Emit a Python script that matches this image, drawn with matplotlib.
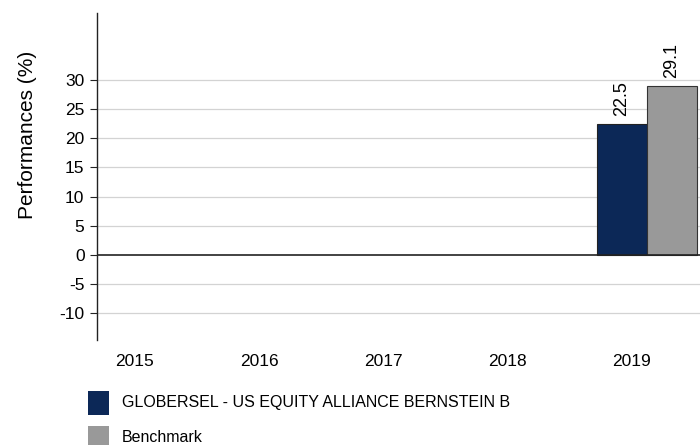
import matplotlib
matplotlib.use("Agg")
import matplotlib.pyplot as plt
from matplotlib.patches import Rectangle

years = ["2015", "2016", "2017", "2018", "2019"]
fund_values = [None, None, None, None, 22.5]
bench_values = [None, None, None, None, 29.1]
fund_name = "GLOBERSEL - US EQUITY ALLIANCE BERNSTEIN B"
bench_name = "Benchmark"
yticks = [-10, -5, 0, 5, 10, 15, 20, 25, 30]

fund_color = "#0c2857"
bench_color = "#999999"

plt.rcParams['font.family'] = ['Liberation Sans', 'DejaVu Sans']

W, H = 700, 445
fig = plt.figure(figsize=(W / 100, H / 100), dpi=100)
ax = fig.add_axes([97 / W, 1 - 340 / H, (700 - 97) / W, (340 - 13) / H])

ax.set_xlim(-0.306, 4.556)
ax.set_ylim(-14.7, 41.6)

bw = 0.403
off = 0.129
for i, (f, b) in enumerate(zip(fund_values, bench_values)):
    if f is not None:
        ax.bar(i + off - bw / 2, f, width=bw, color=fund_color, edgecolor="#222222", linewidth=0.8, zorder=3)
        ax.text(i + off - bw / 2, f + 1.3, f"{f:.1f}", rotation=90, ha="center", va="bottom", fontsize=13)
    if b is not None:
        ax.bar(i + off + bw / 2, b, width=bw, color=bench_color, edgecolor="#333333", linewidth=0.8, zorder=3)
        ax.text(i + off + bw / 2, b + 1.3, f"{b:.1f}", rotation=90, ha="center", va="bottom", fontsize=13)

ax.set_yticks(yticks)
ax.set_yticklabels([str(t) for t in yticks], fontsize=12.5)
for t in yticks:
    if t == 0:
        ax.axhline(0, color="#222222", linewidth=1.2, zorder=4)
    else:
        ax.axhline(t, color="#d3d3d3", linewidth=0.9, zorder=1)

ax.set_xticks(range(len(years)))
ax.set_xticklabels(years, fontsize=12.5)
ax.tick_params(axis="x", length=0, pad=10)
ax.tick_params(axis="y", length=5, width=0.8, color="#222222", pad=4)

for s in ["top", "right", "bottom"]:
    ax.spines[s].set_visible(False)
ax.spines["left"].set_color("#222222")
ax.spines["left"].set_linewidth(1.0)

ax.set_ylabel("Performances (%)", fontsize=15)
ax.yaxis.set_label_coords(-0.1, 0.627)

# legend
def px(x, y):
    return x / W, 1 - y / H

for (y0, color, label) in [(391, fund_color, fund_name), (426, bench_color, bench_name)]:
    x0, y1 = px(88, y0 + 24)
    fig.add_artist(Rectangle((x0, y1), 21 / W, 24 / H, transform=fig.transFigure,
                             facecolor=color, edgecolor="none"))
    tx, ty = px(122, y0 + 12)
    fig.text(tx, ty, label, fontsize=11.5, va="center", ha="left")

fig.savefig("out.png", dpi=100)
